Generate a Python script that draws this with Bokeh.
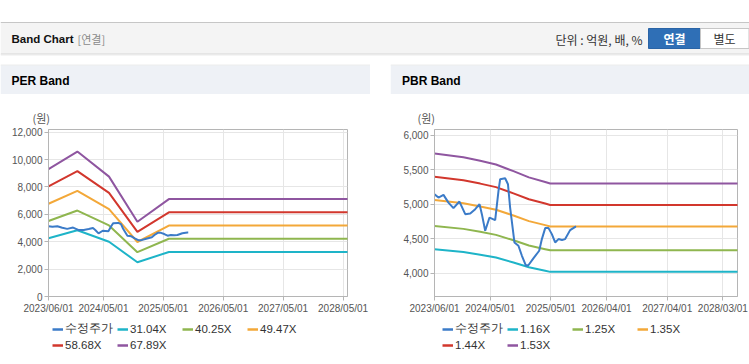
import pandas as pd
from bokeh.plotting import figure
from bokeh.models import (Range1d, FixedTicker, DatetimeTickFormatter, NumeralTickFormatter,
                          Legend, LegendItem, ColumnDataSource)
from bokeh.layouts import column, row
from bokeh.embed import file_html
from bokeh.resources import INLINE
from bokeh.core.properties import value

# ---------------- data ----------------
price_dates = ["2023-06-01", "2023-06-25", "2023-07-25", "2023-08-24", "2023-09-23", "2023-10-29",
               "2023-12-03", "2024-01-02", "2024-02-01", "2024-02-27", "2024-03-12", "2024-04-01",
               "2024-04-27", "2024-05-31", "2024-06-20", "2024-06-30", "2024-07-30", "2024-08-16",
               "2024-08-29", "2024-09-24", "2024-10-18", "2024-11-08", "2024-12-02", "2024-12-18",
               "2025-01-17", "2025-02-20", "2025-03-08", "2025-03-28", "2025-04-17", "2025-05-07",
               "2025-05-27", "2025-06-16", "2025-07-07", "2025-07-26", "2025-08-25", "2025-09-25",
               "2025-09-30"]
price_values = [5140, 5094, 5132, 5021, 4940, 5036,
                4853, 4862, 4926, 4998, 4853, 4612,
                4804, 4767, 5190, 5360, 5374, 5287,
                4949, 4443, 4395, 4250, 4106, 4116,
                4217, 4323, 4492, 4651, 4651, 4564,
                4443, 4492, 4478, 4492, 4622, 4670,
                4670]

per_dates = ["2023-06-01", "2023-11-24", "2024-06-04", "2024-11-24", "2025-06-04", "2028-05-31"]
per_labels = ["31.04X", "40.25X", "49.47X", "58.68X", "67.89X"]
per_31_04 = [4253, 4842, 4004, 2499, 3253, 3253]
per_40_25 = [5514, 6279, 5192, 3240, 4218, 4218]
per_49_47 = [6777, 7717, 6382, 3982, 5185, 5185]
per_58_68 = [8039, 9154, 7570, 4724, 6150, 6150]
per_67_89 = [9301, 10591, 8758, 5465, 7115, 7115]
per_ticks = ["2023/06/01", "2024/05/01", "2025/05/01", "2026/05/01", "2027/05/01", "2028/05/01"]
per_yticks = [0, 2000, 4000, 6000, 8000, 10000, 12000]

pbr_dates = ["2023-06-01", "2023-11-22", "2024-03-02", "2024-06-05", "2024-09-18", "2024-12-20",
             "2025-03-28", "2025-04-27", "2028-05-31"]
pbr_labels = ["1.16X", "1.25X", "1.35X", "1.44X", "1.53X"]
pbr_1_16 = [4345, 4306, 4266, 4225, 4153, 4083, 4033, 4017, 4017]
pbr_1_25 = [4683, 4640, 4598, 4553, 4475, 4400, 4346, 4329, 4329]
pbr_1_35 = [5057, 5011, 4965, 4917, 4833, 4752, 4694, 4675, 4675]
pbr_1_44 = [5394, 5345, 5296, 5245, 5155, 5069, 5007, 4987, 4987]
pbr_1_53 = [5731, 5679, 5627, 5572, 5477, 5386, 5320, 5298, 5298]
pbr_ticks = ["2023/06/01", "2024/05/01", "2025/05/01", "2026/04/01", "2027/04/01", "2028/03/01"]
pbr_yticks = [4000, 4500, 5000, 5500, 6000]

price_label = "수정주가"
band_colors = ["#1eb4c8", "#8fb64f", "#f3a839", "#d2372d", "#8f56a0"]
price_color = "#3b7bc8"

FONT = "Liberation Sans"
KFONT = "Noto Sans CJK KR"


# ---------------- helpers ----------------
def canvas(w, h, x0, y0, bg="white"):
    p = figure(width=w, height=h, x_range=Range1d(x0, x0 + w), y_range=Range1d(y0 + h, y0),
               output_backend="svg", toolbar_location=None, min_border=0,
               x_axis_location=None, y_axis_location=None, frame_align=False)
    p.grid.visible = False
    p.outline_line_color = None
    p.background_fill_color = bg
    p.border_fill_color = bg
    return p


def band(p, l, r, t, b, color, line=None):
    p.quad(left=[l], right=[r], top=[t], bottom=[b], fill_color=color,
           line_color=line, line_width=1 if line else 0)


def label(p, x, y, s, size="11px", color="#333333", bold=False, align="left", font=KFONT):
    p.text(x=[x], y=[y], text=[s], text_font=value(font), text_font_size=size,
           text_color=color, text_font_style="bold" if bold else "normal",
           text_align=align, text_baseline="middle")


def make_chart(w, left, right, dates, series, ticks, yticks, y0, y1):
    x_start = pd.Timestamp("2023-06-01")
    x_end = pd.Timestamp("2028-05-28")
    p = figure(width=w, height=192, x_axis_type="datetime",
               x_range=Range1d(x_start, x_end), y_range=Range1d(y0, y1),
               output_backend="svg", toolbar_location=None,
               min_border_left=left, min_border_right=right,
               min_border_top=3, min_border_bottom=22, frame_align=False)
    p.background_fill_color = "white"
    p.border_fill_color = "white"
    p.outline_line_color = "#b5b5b5"
    p.grid.grid_line_color = "#e6e6e6"

    tick_ms = [pd.Timestamp(pd.to_datetime(t, format="%Y/%m/%d")).value // 10**6 for t in ticks]
    p.xaxis.ticker = FixedTicker(ticks=tick_ms)
    fmt = "%Y/%m/%d"
    p.xaxis.formatter = DatetimeTickFormatter(microseconds=fmt, milliseconds=fmt, seconds=fmt,
                                              minsec=fmt, minutes=fmt, hourmin=fmt, hours=fmt,
                                              days=fmt, months=fmt, years=fmt)
    p.yaxis.ticker = FixedTicker(ticks=yticks)
    p.yaxis.formatter = NumeralTickFormatter(format="0,0")
    for ax in (p.xaxis, p.yaxis):
        ax.axis_line_color = "#b5b5b5"
        ax.major_tick_line_color = "#b5b5b5"
        ax.major_tick_out = 4
        ax.major_tick_in = 0
        ax.minor_tick_line_color = None
        ax.major_label_text_font = FONT
        ax.major_label_text_font_size = "10px"
        ax.major_label_text_color = "#555555"
        ax.major_label_standoff = 2

    xd = pd.to_datetime(dates)
    for vals, col in zip(series, band_colors):
        src = ColumnDataSource(dict(x=xd, y=vals))
        p.line("x", "y", source=src, line_color=col, line_width=2)
    psrc = ColumnDataSource(dict(x=pd.to_datetime(price_dates), y=price_values))
    p.line("x", "y", source=psrc, line_color=price_color, line_width=2)
    return p


def make_legend(w, x0, labels):
    # legend strip below a chart (abs y 318 -> 361); the sample renderers sit
    # outside the visible range so only their legend swatches show
    p = canvas(w, 43, x0, 318)
    off_x = [x0 - 20, x0 - 10]
    off_y = [300, 300]
    rs = [p.line(x=off_x, y=off_y, line_color=price_color, line_width=2.5)]
    for col in band_colors:
        rs.append(p.line(x=off_x, y=off_y, line_color=col, line_width=2.5))
    names = [price_label] + labels
    items = [LegendItem(label=n, renderers=[r]) for n, r in zip(names, rs)]
    leg = Legend(items=items, orientation="horizontal", ncols=4, location=(52, 10),
                 glyph_width=11, glyph_height=12, label_standoff=2, label_height=12,
                 label_width=49, spacing=3, padding=0, margin=0,
                 border_line_color=None, background_fill_alpha=0,
                 label_text_font=FONT, label_text_font_size="11.5px",
                 label_text_color="#333333")
    p.add_layout(leg)
    return p


# ---------------- header ----------------
header = canvas(749, 64, 0, 0)
band(header, 0, 749, 21.5, 22.5, "#c6c6c6")
band(header, 0, 749, 22.5, 53, "#f4f4f4")
band(header, 0, 749, 53, 54, "#d2d2d2")
band(header, 0, 749, 54, 55, "#ececec")
label(header, 11, 38.5, "Band Chart", size="11.5px", color="#111111", bold=True, font=FONT)
label(header, 77, 38.5, "[연결]", size="11px", color="#8a8a8a")
label(header, 642, 38.5, "단위 : 억원, 배, %", size="12px", color="#333333", align="right")
band(header, 648, 700, 28, 48, "#2f6fb6", line="#2a64a6")
label(header, 674, 38, "연결", size="12px", color="white", bold=True, align="center")
band(header, 700, 748.5, 28, 48, "white", line="#c6c6c6")
label(header, 724, 38, "별도", size="12px", color="#333333", align="center")

# ---------------- panel titles ----------------
title_L = canvas(370, 62, 0, 64)
band(title_L, 0, 370, 64, 65, "#dadada")
band(title_L, 0, 370, 65, 93.5, "#eef1f6")
label(title_L, 11, 80, "PER Band", size="12px", color="#000000", bold=True, font=FONT)
label(title_L, 32, 117.5, "(원)", size="11px", color="#555555")

title_R = canvas(359, 62, 390, 64)
band(title_R, 390, 749, 64, 65, "#dadada")
band(title_R, 390, 749, 65, 93.5, "#eef1f6")
label(title_R, 401.5, 80, "PBR Band", size="12px", color="#000000", bold=True, font=FONT)
label(title_R, 417, 117.5, "(원)", size="11px", color="#555555")

# ---------------- charts ----------------
chart_L = make_chart(370, 48, 23, per_dates,
                     [per_31_04, per_40_25, per_49_47, per_58_68, per_67_89],
                     per_ticks, per_yticks, 0, 12200)
chart_R = make_chart(359, 44, 12, pbr_dates,
                     [pbr_1_16, pbr_1_25, pbr_1_35, pbr_1_44, pbr_1_53],
                     pbr_ticks, pbr_yticks, 3660, 6080)

legend_L = make_legend(370, 0, per_labels)
legend_R = make_legend(359, 390, pbr_labels)

bottom_L = canvas(370, 3, 0, 361)
band(bottom_L, 0, 370, 361, 362, "#cfcfcf")
bottom_R = canvas(359, 3, 390, 361)
band(bottom_R, 390, 749, 361, 362, "#cfcfcf")

gap = canvas(20, 300, 370, 64)

left_col = column(title_L, chart_L, legend_L, bottom_L, spacing=0)
right_col = column(title_R, chart_R, legend_R, bottom_R, spacing=0)
body = row(left_col, gap, right_col, spacing=0)
page = column(header, body, spacing=0)

open("out.html", "w").write(file_html(page, INLINE, "Band Chart"))
